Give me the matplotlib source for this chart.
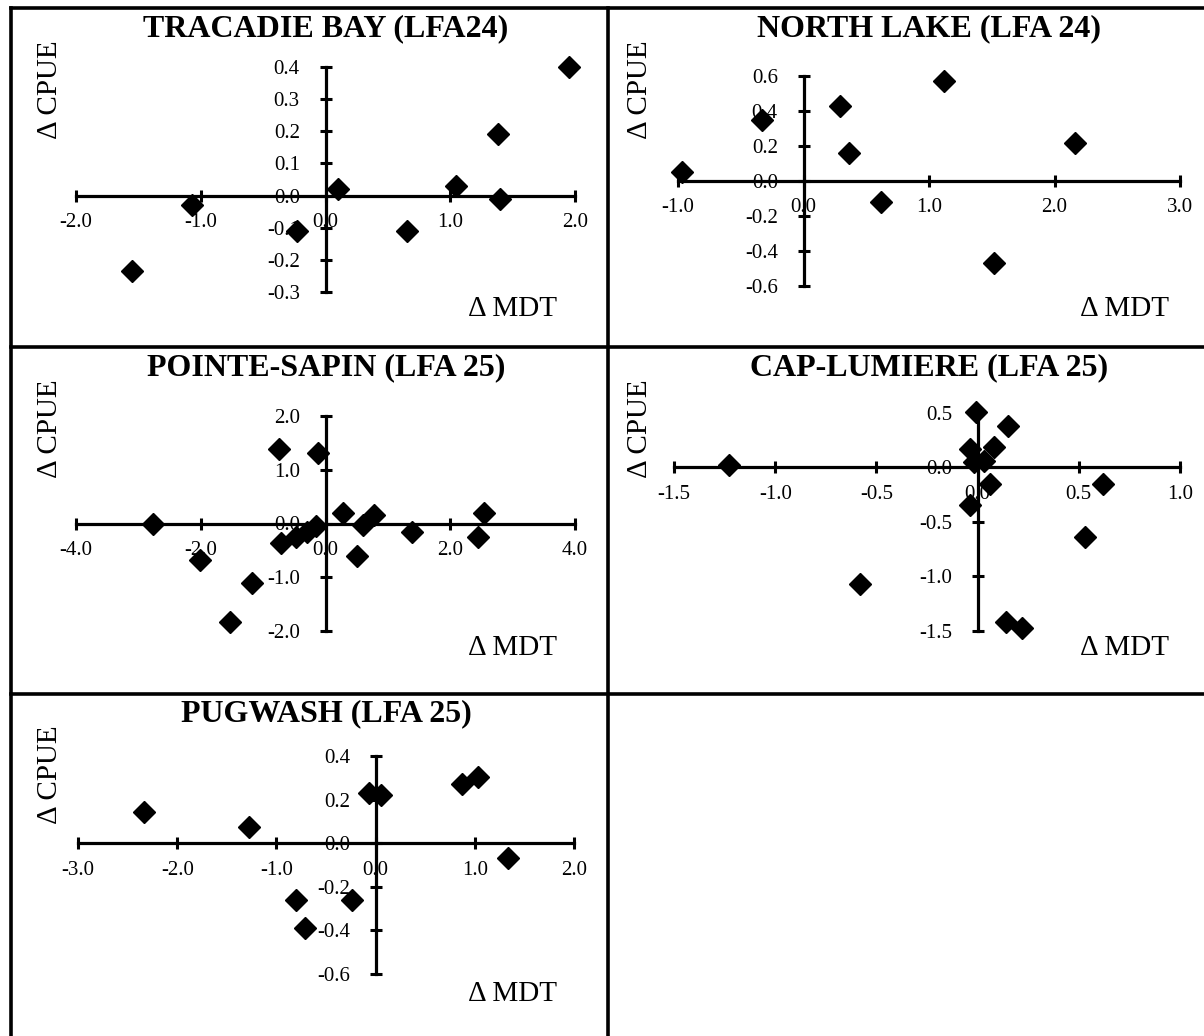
import matplotlib
matplotlib.use("Agg")
import matplotlib.pyplot as plt
from matplotlib.ticker import MultipleLocator, FormatStrFormatter
from matplotlib.lines import Line2D

plt.rcParams['font.family'] = ['Liberation Serif', 'DejaVu Serif']
plt.rcParams['axes.unicode_minus'] = False

# ---- data (delta MDT, delta CPUE) ----
tracadie_x = [1.95, 1.38, 1.05, 1.40, 0.10, -0.23, 0.65, -1.07, -1.55]
tracadie_y = [0.40, 0.19, 0.03, -0.01, 0.02, -0.11, -0.11, -0.03, -0.235]

northlake_x = [-0.97, -0.33, 0.29, 0.36, 0.62, 1.12, 2.16, 1.52]
northlake_y = [0.05, 0.35, 0.43, 0.16, -0.12, 0.57, 0.22, -0.47]

sapin_x = [-2.77, -2.01, -1.18, -1.53, -0.74, -0.12, -0.72, -0.47, -0.30, -0.15,
           0.28, 0.60, 0.77, 0.51, 1.39, 2.45, 2.54]
sapin_y = [0.00, -0.67, -1.10, -1.83, 1.38, 1.32, -0.37, -0.25, -0.15, -0.05,
           0.20, -0.02, 0.15, -0.61, -0.16, -0.25, 0.20]

caplum_x = [-1.23, -0.58, -0.01, 0.15, -0.04, 0.08, -0.02, 0.03, 0.06, -0.04,
            0.62, 0.53, 0.14, 0.22]
caplum_y = [0.02, -1.07, 0.51, 0.38, 0.17, 0.19, 0.05, 0.06, -0.15, -0.34,
            -0.15, -0.64, -1.42, -1.47]

pugwash_x = [-2.33, -1.28, -0.80, -0.71, -0.24, -0.07, 0.05, 0.87, 1.03, 1.33]
pugwash_y = [0.145, 0.075, -0.26, -0.39, -0.26, 0.23, 0.22, 0.27, 0.305, -0.066]

titles = ['TRACADIE BAY (LFA24)', 'NORTH LAKE (LFA 24)', 'POINTE-SAPIN (LFA 25)',
          'CAP-LUMIERE (LFA 25)', 'PUGWASH (LFA 25)']
xs = [tracadie_x, northlake_x, sapin_x, caplum_x, pugwash_x]
ys = [tracadie_y, northlake_y, sapin_y, caplum_y, pugwash_y]
xlims = [(-2, 2), (-1, 3), (-4, 4), (-1.5, 1), (-3, 2)]
ylims = [(-0.3, 0.4), (-0.6, 0.6), (-2, 2), (-1.5, 0.5), (-0.6, 0.4)]
xsteps = [1.0, 1.0, 2.0, 0.5, 1.0]
ysteps = [0.1, 0.2, 1.0, 0.5, 0.2]

W, H = 1204, 1036
fig = plt.figure(figsize=(W / 100, H / 100), dpi=100)


def fx(px):
    return px / W


def fy(py):
    return 1 - py / H


# plot area boxes in pixels: left, top, right, bottom
boxes = [(76, 67, 575, 292), (678, 76, 1180, 286), (76, 416, 575, 631),
         (674, 413, 1180, 631), (78, 756, 574, 974)]
panel_tops = [8, 8, 347, 347, 693]
cols = [0, 1, 0, 1, 0]
title_cx = [326, 929]
cpue_cx = [50, 640]
mdt_cx = [512, 1124]

for i in range(5):
    l, t, r, b = boxes[i]
    ax = fig.add_axes([fx(l), fy(b), (r - l) / W, (b - t) / H])
    ax.set_facecolor('none')
    ax.set_xlim(*xlims[i])
    ax.set_ylim(*ylims[i])
    for s in ['top', 'right']:
        ax.spines[s].set_visible(False)
    for s in ['left', 'bottom']:
        ax.spines[s].set_position(('data', 0))
        ax.spines[s].set_linewidth(2.3)
    ax.xaxis.set_major_locator(MultipleLocator(xsteps[i]))
    ax.yaxis.set_major_locator(MultipleLocator(ysteps[i]))
    ax.xaxis.set_major_formatter(FormatStrFormatter('%.1f'))
    ax.yaxis.set_major_formatter(FormatStrFormatter('%.1f'))
    ax.tick_params(axis='both', direction='inout', length=9, width=2.2,
                   labelsize=15)
    ax.tick_params(axis='x', pad=8)
    ax.tick_params(axis='y', pad=14)
    ax.plot(xs[i], ys[i], linestyle='none', marker='D', ms=11,
            color='black', clip_on=False, zorder=5)

    top = panel_tops[i]
    c = cols[i]
    fig.text(fx(title_cx[c]), fy(top + 21), titles[i], fontsize=23,
             fontweight='bold', ha='center', va='center')
    fig.text(fx(cpue_cx[c]), fy(top + 82), 'Δ CPUE', fontsize=21,
             rotation=90, ha='center', va='center')
    fig.text(fx(mdt_cx[c]), fy(top + 301), 'Δ MDT', fontsize=21,
             ha='center', va='center')

# panel borders
border = dict(color='black', linewidth=2.6, transform=fig.transFigure)
fig.add_artist(Line2D([fx(11), fx(W)], [fy(8), fy(8)], **border))
fig.add_artist(Line2D([fx(11), fx(W)], [fy(347), fy(347)], **border))
fig.add_artist(Line2D([fx(11), fx(W)], [fy(694), fy(694)], **border))
fig.add_artist(Line2D([fx(11), fx(11)], [fy(8), fy(H)], **border))
fig.add_artist(Line2D([fx(608), fx(608)], [fy(8), fy(H)], **border))

fig.savefig('out.png', dpi=100, facecolor='white')
